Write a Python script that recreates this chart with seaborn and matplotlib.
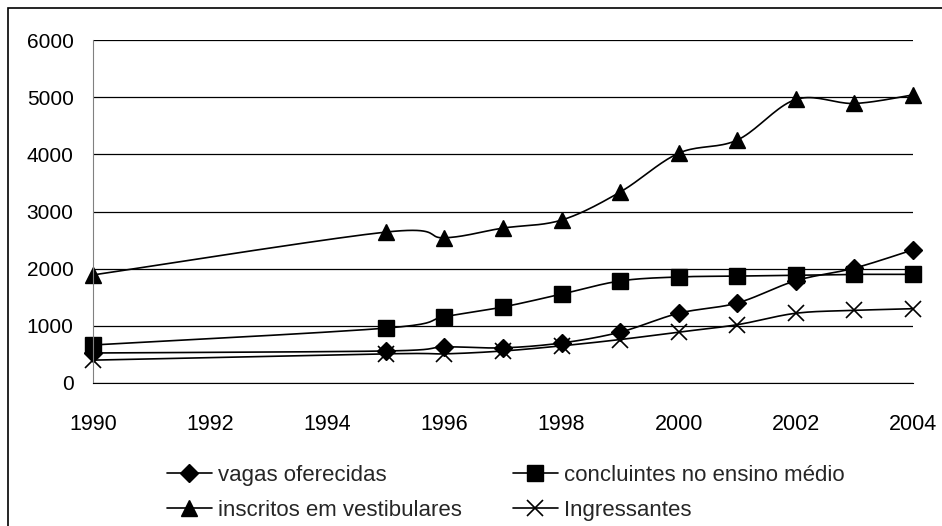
import numpy as np
import pandas as pd
import seaborn as sns
import matplotlib
matplotlib.use("Agg")
import matplotlib.pyplot as plt
from matplotlib.patches import Rectangle

# ---- Données ---- #
anos = [1990, 1995, 1996, 1997, 1998, 1999, 2000, 2001, 2002, 2003, 2004]
vagas = [525, 560, 630, 615, 700, 890, 1220, 1400, 1790, 2010, 2330]
concluintes = [665, 960, 1160, 1330, 1555, 1785, 1855, 1870, 1885, 1900, 1900]
inscritos = [1890, 2640, 2540, 2710, 2850, 3340, 4020, 4250, 4960, 4890, 5040]
ingressantes = [400, 510, 510, 560, 650, 760, 890, 1020, 1220, 1270, 1300]

series = [
    ("vagas oferecidas", vagas, "D", 9, 1.0),
    ("inscritos em vestibulares", inscritos, "^", 12, 1.0),
    ("concluintes no ensino médio", concluintes, "s", 11, 1.0),
    ("Ingressantes", ingressantes, "x", 12, 1.2),
]


def lissage(x, y, n=20):
    # courbe lissée façon Excel (Catmull-Rom en forme de Bézier)
    x = np.asarray(x, float)
    y = np.asarray(y, float)
    px = np.concatenate([[x[0]], x, [x[-1]]])
    py = np.concatenate([[y[0]], y, [y[-1]]])
    xs, ys = [], []
    t = np.linspace(0, 1, n, endpoint=False)
    for i in range(1, len(px) - 2):
        p0, p1, p2, p3 = (np.array([px[j], py[j]]) for j in (i - 1, i, i + 1, i + 2))
        c1 = p1 + (p2 - p0) / 6
        c2 = p2 - (p3 - p1) / 6
        pts = ((1 - t) ** 3)[:, None] * p1 + (3 * (1 - t) ** 2 * t)[:, None] * c1 \
            + (3 * (1 - t) * t ** 2)[:, None] * c2 + (t ** 3)[:, None] * p2
        xs.extend(pts[:, 0])
        ys.extend(pts[:, 1])
    xs.append(x[-1])
    ys.append(y[-1])
    return np.array(xs), np.array(ys)


sns.set_style("white")
plt.rcParams["font.family"] = ["Liberation Sans", "DejaVu Sans"]

fig = plt.figure(figsize=(9.42, 5.26), dpi=100)
ax = fig.add_axes([93 / 942, 1 - 383 / 526, 820 / 942, 343 / 526])

poignees = []
for nom, vals, mk, ms, mew in series:
    xs, ys = lissage(anos, vals)
    sns.lineplot(x=xs, y=ys, ax=ax, color="black", lw=1.2, sort=False,
                 estimator=None, legend=False)
    df = pd.DataFrame({"ano": anos, "valor": vals})
    h, = ax.plot(df["ano"], df["valor"], ls="none", marker=mk, ms=ms,
                 color="black", mew=mew, clip_on=False)
    poignees.append((h, nom))

ax.set_xlim(1990, 2004)
ax.set_ylim(0, 6000)
ax.set_xticks(range(1990, 2005, 2))
ax.set_yticks(range(0, 6001, 1000))
ax.grid(axis="y", color="black", lw=0.9)
ax.grid(axis="x", visible=False)
ax.set_axisbelow(True)
for s in ["top", "right"]:
    ax.spines[s].set_visible(False)
ax.spines["left"].set_color("#808080")
ax.spines["bottom"].set_color("black")
ax.tick_params(axis="both", direction="out", length=7, width=1, labelsize=15,
               colors="black")
ax.tick_params(axis="x", labelsize=15.5)
ax.tick_params(axis="y", color="black", pad=7)
ax.tick_params(axis="x", color="#808080", pad=15)
ax.set_xlabel("")
ax.set_ylabel("")
if ax.get_legend() is not None:
    ax.get_legend().remove()

leg = fig.legend([p[0] for p in poignees], [p[1] for p in poignees],
                 loc="center", bbox_to_anchor=(506 / 942, 1 - 493 / 526), ncol=2,
                 frameon=False, fontsize=16, handlelength=2.0, handletextpad=0.3,
                 columnspacing=2.3, labelspacing=0.65)
for h in leg.legend_handles:
    h.set_linestyle("-")
    h.set_linewidth(1.2)

fig.patches.append(Rectangle((8 / 942, -0.1), 1.1, 1 - 8 / 526 + 0.1,
                             transform=fig.transFigure, fill=False,
                             edgecolor="black", lw=1.2))

fig.savefig("out.png", dpi=100)
